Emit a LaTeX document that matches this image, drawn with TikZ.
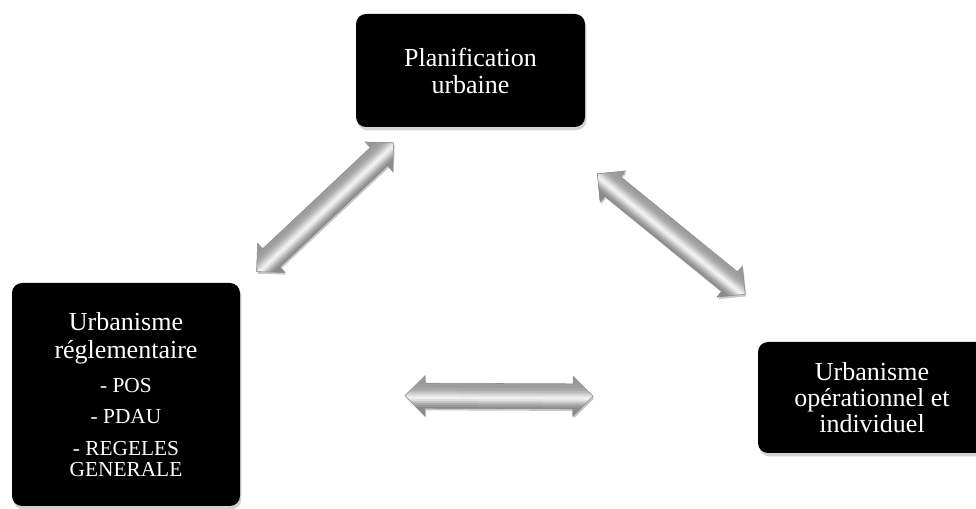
\documentclass[tikz,border=0pt]{standalone}
\usepackage{fontspec}
\setmainfont{Liberation Serif}
\usetikzlibrary{shadows}
\tikzset{
  blackbox/.style={rectangle, rounded corners=7.5pt, fill=black, text=white,
    align=center, inner sep=0pt,
    drop shadow={shadow xshift=1pt, shadow yshift=-2.5pt, opacity=0.35}},
  arrowshadow/.style={fill=black, opacity=0.22},
  arrowedge/.style={draw=black!45, line width=0.4pt}
}
% outline of a fat double arrow of half length #1 (pt), head 15pt long, 30pt wide, shaft 18.75pt
\newcommand{\fatpath}[2]{(-#1pt,0pt) -- (-#2pt,15pt) -- (-#2pt,9.375pt) -- (#2pt,9.375pt) -- (#2pt,15pt) -- (#1pt,0pt) -- (#2pt,-15pt) -- (#2pt,-9.375pt) -- (-#2pt,-9.375pt) -- (-#2pt,-15pt) -- cycle}
% #1 centre coordinate, #2 angle, #3 total length (pt)
\newcommand{\fatarrowdraw}[3]{%
  \pgfmathsetmacro\hh{#3/2}\pgfmathsetmacro\hb{#3/2-15}%
  \begin{scope}[shift={(#1)}]
    \begin{scope}[xshift=0.8pt,yshift=-1.6pt,rotate=#2]
      \fill[arrowshadow] \fatpath{\hh}{\hb};
    \end{scope}
    \begin{scope}[rotate=#2]
      \begin{scope}
        \clip \fatpath{\hh}{\hb};
        \foreach \a/\c in {15/40, 9/38, 6/34, 4/28, 2.5/20, 1/12, -0.5/6, -2.5/12, -4/22, -5.5/32, -7/40, -8.5/46}
          \fill[black!\c] (-\hh pt,\a pt) rectangle (\hh pt,-15pt);
      \end{scope}
      \path[arrowedge] \fatpath{\hh}{\hb};
    \end{scope}
  \end{scope}}
\begin{document}
\begin{tikzpicture}[x=0.75pt,y=-0.75pt]
\useasboundingbox (0,0) rectangle (976,509);
\node[blackbox, minimum width=171.75pt, minimum height=84.75pt,
      font=\fontsize{19.5}{20.25}\selectfont] (T) at (470.5,70.5)
      {Planification\\urbaine};
\node[blackbox, minimum width=171pt, minimum height=167.25pt,
      font=\fontsize{19.5}{21}\selectfont] (L) at (126,394.5)
      {Urbanisme\\réglementaire\\[4.5pt]{\fontsize{16}{16}\selectfont - POS}\\[2.25pt]{\fontsize{16}{16}\selectfont - PDAU}\\[3pt]{\fontsize{16}{16}\selectfont - REGELES}\\[-5.25pt]{\fontsize{16}{16}\selectfont GENERALE}};
\node[blackbox, minimum width=171pt, minimum height=83.25pt,
      font=\fontsize{19.5}{19.5}\selectfont] (R) at (872,397.5)
      {Urbanisme\\opérationnel et\\individuel};
\path (L.center) -- coordinate[pos=0.578] (a1) (T.center);
\path (T.center) -- coordinate[pos=0.5] (a2) (R.center);
\path (L.center) -- coordinate[pos=0.5] (a3) (R.center);
\fatarrowdraw{a1}{43.24}{141}
\fatarrowdraw{a2}{-39.16}{143}
\fatarrowdraw{a3}{-0.23}{141}
\end{tikzpicture}
\end{document}
